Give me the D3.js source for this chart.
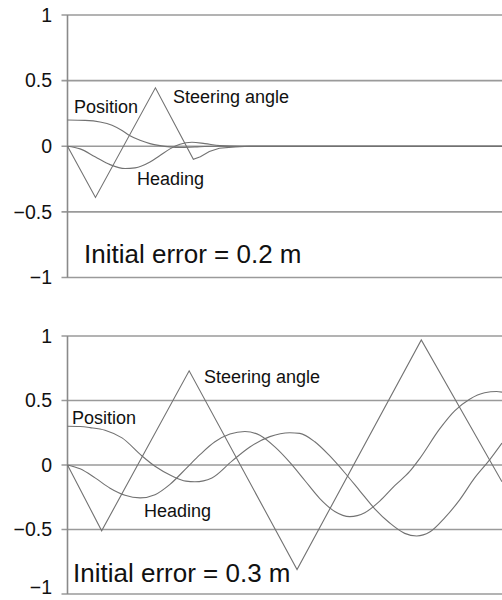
<!DOCTYPE html>
<html>
<head>
<meta charset="utf-8">
<script src="https://cdn.jsdelivr.net/npm/d3@7"></script>
<style>
  html, body { margin: 0; padding: 0; background: #fff; }
  svg { display: block; font-family: "Liberation Sans", Arial, Helvetica, sans-serif; }
  .grid line { stroke: #9a9a9a; stroke-width: 1.6; }
  .axis-line { stroke: #8a8a8a; stroke-width: 1.6; }
  .trace { fill: none; stroke: #727272; stroke-width: 1.1; }
  .tick-label { font-size: 19.5px; fill: #111; }
  .series-label { font-size: 18px; fill: #111; }
  .note { font-size: 26px; fill: #111; }
</style>
</head>
<body>
<div id="chart"></div>
<script>
// time axis (s) and value ticks shared by both panels
const yTicks = [1, 0.5, 0, -0.5, -1];
const tickLabels = ['1', '0.5', '0', '\u22120.5', '\u22121'];

// initial error = 0.2 m
const topSteering = [[0, 0], [1.4, -0.39], [4.4, 0.445], [6.3, -0.1], [6.65, -0.08], [7.1, -0.04],
  [7.6, -0.015], [8.4, -0.005], [9.1, 0], [21.75, 0]];
const topPosition = [[0, 0.2], [0.88, 0.197], [1.63, 0.185], [2.23, 0.16], [2.73, 0.12], [3.13, 0.08],
  [3.63, 0.045], [4.13, 0.02], [4.63, 0.005], [5.13, -0.005], [5.63, -0.01], [6.38, -0.005],
  [7.38, 0], [21.75, 0]];
const topHeading = [[0, 0], [0.63, -0.02], [1.38, -0.08], [2.13, -0.14], [2.88, -0.17], [3.38, -0.165],
  [4.13, -0.12], [4.63, -0.07], [5.13, -0.02], [5.63, 0.015], [6.23, 0.03], [6.88, 0.02],
  [7.63, 0.005], [8.63, 0], [21.75, 0]];

// initial error = 0.3 m
const bottomSteering = [[0, 0], [1.71, -0.51], [6.09, 0.73], [11.49, -0.81], [17.71, 0.97], [21.75, -0.13]];
const bottomPosition = [[0, 0.3], [0.63, 0.298], [1.13, 0.29], [1.88, 0.27], [2.73, 0.21], [3.73, 0.07],
  [4.38, -0.01], [5.23, -0.085], [5.93, -0.125], [6.38, -0.13], [7.23, -0.1], [8.23, 0.03],
  [9.13, 0.14], [10.13, 0.22], [11.13, 0.25], [11.63, 0.245], [12.38, 0.18], [13.13, 0.07],
  [13.88, -0.06], [14.63, -0.2], [15.38, -0.34], [16.13, -0.45], [16.88, -0.53], [17.48, -0.55],
  [18.13, -0.52], [18.88, -0.41], [19.63, -0.27], [20.38, -0.1], [21.13, 0.04], [21.75, 0.17]];
const bottomHeading = [[0, 0], [0.63, -0.03], [1.38, -0.1], [2.13, -0.18], [2.88, -0.235], [3.63, -0.255],
  [4.38, -0.23], [5.13, -0.15], [5.98, -0.02], [6.63, 0.08], [7.38, 0.18], [8.13, 0.24],
  [8.88, 0.26], [9.63, 0.23], [10.38, 0.14], [11.13, 0.02], [11.88, -0.12], [12.63, -0.26],
  [13.38, -0.36], [14.13, -0.4], [14.88, -0.37], [15.63, -0.28], [16.38, -0.16], [17.13, -0.05],
  [17.63, 0.05], [18.63, 0.28], [19.38, 0.42], [20.13, 0.51], [20.88, 0.56], [21.48, 0.57], [21.75, 0.565]];

const width = 502, height = 600;
const svg = d3.select('#chart').append('svg')
  .attr('width', width)
  .attr('height', height);

const x = d3.scaleLinear().domain([0, 21.75]).range([67.5, 502]);

const panels = [
  {
    top: 15, bottom: 277.5,
    series: [topSteering, topPosition, topHeading],
    labels: [
      {text: 'Position', x: 74, y: 112.5},
      {text: 'Steering angle', x: 173, y: 103},
      {text: 'Heading', x: 137, y: 185}
    ],
    note: {text: 'Initial error = 0.2 m', x: 84, y: 263}
  },
  {
    top: 336, bottom: 594,
    series: [bottomSteering, bottomPosition, bottomHeading],
    labels: [
      {text: 'Steering angle', x: 204, y: 383},
      {text: 'Position', x: 72, y: 424},
      {text: 'Heading', x: 144, y: 517}
    ],
    note: {text: 'Initial error = 0.3 m', x: 73, y: 581.5}
  }
];

panels.forEach(p => {
  let y = d3.scaleLinear().domain([-1, 1]).range([p.bottom, p.top]);
  let g = svg.append('g');

  // grid lines with short ticks left of the axis
  g.append('g').attr('class', 'grid')
    .selectAll('line')
    .data(yTicks)
    .enter().append('line')
    .attr('x1', x(0) - 6)
    .attr('x2', width)
    .attr('y1', d => y(d))
    .attr('y2', d => y(d));

  g.append('line')
    .attr('class', 'axis-line')
    .attr('x1', x(0)).attr('x2', x(0))
    .attr('y1', y(1)).attr('y2', y(-1));

  // keep the last label inside the page
  g.selectAll('.tick-label')
    .data(yTicks)
    .enter().append('text')
    .attr('class', 'tick-label')
    .attr('x', 52)
    .attr('y', d => Math.min(y(d), height - 13))
    .attr('dy', '0.35em')
    .attr('text-anchor', 'end')
    .text((d, i) => tickLabels[i]);

  p.series.forEach((s, i) => {
    // steering angle is piecewise linear, the others are smooth
    let line = d3.line()
      .x(d => x(d[0]))
      .y(d => y(d[1]))
      .curve(i === 0 ? d3.curveLinear : d3.curveMonotoneX);
    g.append('path')
      .attr('class', 'trace')
      .attr('d', line(s));
  });

  g.selectAll('.series-label')
    .data(p.labels)
    .enter().append('text')
    .attr('class', 'series-label')
    .attr('x', d => d.x)
    .attr('y', d => d.y)
    .text(d => d.text);

  g.append('text')
    .attr('class', 'note')
    .attr('x', p.note.x)
    .attr('y', p.note.y)
    .text(p.note.text);
});
</script>
</body>
</html>
